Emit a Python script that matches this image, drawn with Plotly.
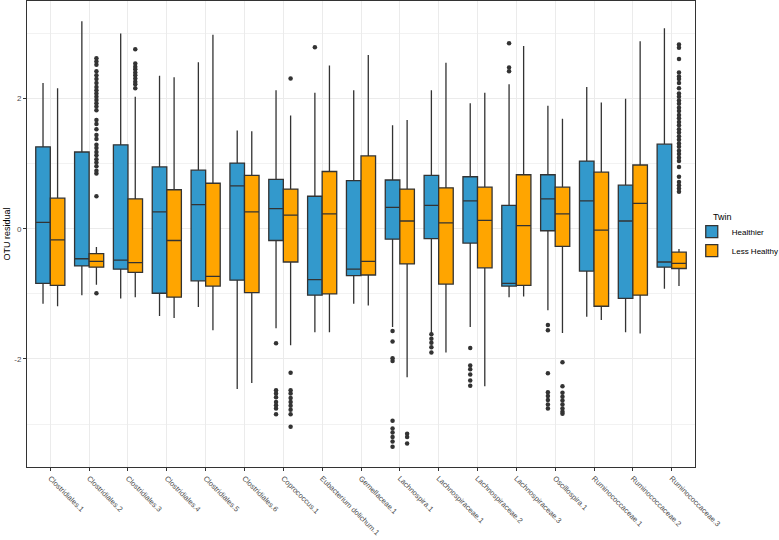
import plotly.graph_objects as go

taxa = ["Clostridiales.1", "Clostridiales.2", "Clostridiales.3", "Clostridiales.4",
        "Clostridiales.5", "Clostridiales.6", "Coprococcus.1", "Eubacterium dolichum.1",
        "Gemellaceae.1", "Lachnospira.1", "Lachnospiraceae.1", "Lachnospiraceae.2",
        "Lachnospiraceae.3", "Oscillospira.1", "Ruminococcaceae.1", "Ruminococcaceae.2",
        "Ruminococcaceae.3"]

# Healthier twin
h_low = [-1.15, -1.02, -1.07, -1.34, -1.20, -2.46, -1.53, -1.59, -1.15, -1.51, -1.60, -1.51, -1.05, -1.25, -1.35, -1.59, -0.92]
h_q1 = [-0.84, -0.57, -0.62, -0.99, -0.80, -0.79, -0.18, -1.02, -0.72, -0.16, -0.15, -0.22, -0.88, -0.03, -0.65, -1.07, -0.59]
h_med = [0.10, -0.46, -0.48, 0.26, 0.37, 0.66, 0.31, -0.78, -0.62, 0.33, 0.36, 0.43, -0.84, 0.46, 0.43, 0.12, -0.51]
h_q3 = [1.26, 1.18, 1.29, 0.95, 0.90, 1.01, 0.76, 0.50, 0.74, 0.75, 0.82, 0.80, 0.36, 0.83, 1.04, 0.67, 1.30]
h_high = [2.24, 3.19, 3.00, 2.35, 2.56, 1.51, 2.13, 2.09, 2.13, 1.59, 2.13, 1.93, 2.22, 1.89, 2.18, 2.00, 3.08]
h_out = [
    [], [], [], [], [], [],
    [-1.76, -2.48, -2.53, -2.59, -2.66, -2.71, -2.76, -2.85],
    [2.79],
    [],
    [-1.57, -1.73, -1.99, -2.03, -2.95, -3.07, -3.13, -3.20, -3.27, -3.35],
    [-1.62, -1.69, -1.75, -1.82, -1.90],
    [-1.83, -2.10, -2.16, -2.24, -2.33, -2.41],
    [2.85, 2.48, 2.42],
    [-1.48, -1.56, -2.22, -2.51, -2.57, -2.63, -2.70, -2.76],
    [], [], [],
]

# Less healthy twin
l_low = [-1.19, -0.86, -1.05, -1.37, -1.56, -2.37, -1.79, -1.59, -1.18, -2.28, -1.90, -2.42, -1.04, -1.60, -1.40, -1.61, -0.88]
l_q1 = [-0.87, -0.59, -0.67, -1.05, -0.88, -0.98, -0.51, -1.00, -0.71, -0.54, -0.85, -0.60, -0.87, -0.27, -1.19, -1.02, -0.61]
l_med = [-0.17, -0.50, -0.52, -0.18, -0.73, 0.26, 0.21, 0.23, -0.50, 0.12, 0.09, 0.13, 0.05, 0.23, -0.02, 0.39, -0.53]
l_q3 = [0.47, -0.38, 0.46, 0.60, 0.70, 0.82, 0.61, 0.88, 1.12, 0.61, 0.63, 0.64, 0.83, 0.64, 0.87, 0.98, -0.36]
l_high = [2.16, -0.28, 2.03, 2.33, 2.98, 1.50, 1.74, 2.51, 2.67, 1.67, 2.55, 2.09, 2.81, 1.69, 1.94, 2.88, -0.31]
l_out = [
    [],
    [0.50, 0.85, 0.89, 0.96, 1.02, 1.07, 1.13, 1.18, 1.24, 1.29, 1.38, 1.44, 1.53, 1.61, 1.67,
     1.82, 1.88, 1.93, 1.98, 2.03, 2.08, 2.13, 2.18, 2.24, 2.30, 2.36, 2.42, 2.52, 2.57, 2.62, -0.99],
    [2.76, 2.54, 2.49, 2.45, 2.40, 2.36, 2.31, 2.26, 2.22, 2.16],
    [], [], [],
    [2.31, -2.21, -2.48, -2.53, -2.60, -2.66, -2.72, -2.78, -2.85, -3.04],
    [], [],
    [-3.15, -3.20, -3.30],
    [], [], [],
    [-2.05, -2.42, -2.52, -2.58, -2.64, -2.70, -2.76, -2.81, -2.84],
    [], [],
    [2.83, 2.78, 2.61, 2.40, 2.34, 2.30, 2.24, 2.16, 2.08, 2.03, 1.97, 1.92, 1.86, 1.81, 1.75,
     1.70, 1.64, 1.59, 1.53, 1.48, 1.42, 1.37, 1.31, 1.26, 1.20, 1.15, 1.09, 1.04, 0.95, 0.80,
     0.72, 0.67, 0.62, 0.57],
]

groups = [
    ("Healthier", "#3399CC", h_low, h_q1, h_med, h_q3, h_high, h_out),
    ("Less Healthy", "#FFA500", l_low, l_q1, l_med, l_q3, l_high, l_out),
]

fig = go.Figure()
for name, color, lo, q1, med, q3, hi, out in groups:
    fig.add_trace(go.Box(
        name=name,
        x=taxa,
        q1=q1, median=med, q3=q3,
        lowerfence=lo, upperfence=hi,
        offsetgroup=name,
        whiskerwidth=0,
        fillcolor=color,
        line=dict(color="#333333", width=1.3),
        hoverinfo="skip",
    ))

# outlier points, dodged the same way as the boxes
for name, color, lo, q1, med, q3, hi, out in groups:
    xs = [t for t, pts in zip(taxa, out) for _ in pts]
    ys = [v for pts in out for v in pts]
    fig.add_trace(go.Scatter(
        x=xs, y=ys, mode="markers",
        offsetgroup=name,
        marker=dict(color="#333333", size=4.5),
        showlegend=False, hoverinfo="skip",
    ))

# legend title drawn separately so the keys can sit further left
fig.add_annotation(
    text="Twin", xref="paper", yref="paper", x=1.024, y=0.537,
    xanchor="left", yanchor="middle", showarrow=False,
    font=dict(size=9, color="black"),
)

fig.update_layout(
    width=779, height=540,
    margin=dict(l=27, r=84, t=1, b=73, autoexpand=False),
    paper_bgcolor="white", plot_bgcolor="white",
    font=dict(family="Liberation Sans, Arial, sans-serif", size=8, color="#4D4D4D"),
    boxmode="group", boxgap=0.25, boxgroupgap=0,
    scattermode="group", scattergap=0.25,
    showlegend=True,
    legend=dict(
        font=dict(size=8, color="black"),
        bgcolor="rgba(0,0,0,0)",
        xref="container", yref="container",
        x=0.888, xanchor="left", y=0.598, yanchor="top",
        tracegroupgap=0,
    ),
    xaxis=dict(
        type="category", categoryorder="array", categoryarray=taxa,
        range=[-0.6, 16.6],
        tickangle=45, ticks="outside", ticklen=3, tickcolor="#333333",
        showgrid=True, gridcolor="#EBEBEB", gridwidth=1,
        showline=True, linecolor="#333333", linewidth=1, mirror=True,
        tickfont=dict(size=7.5, color="#4D4D4D"),
        automargin=False,
    ),
    yaxis=dict(
        range=[-3.66, 3.5],
        tickvals=[-2, 0, 2], ticktext=["-2", "0", "2"],
        ticks="outside", ticklen=3, tickcolor="#333333",
        showgrid=True, gridcolor="#EBEBEB", gridwidth=1,
        minor=dict(tickvals=[-3, -1, 1, 3], showgrid=True, gridcolor="#F2F2F2", gridwidth=0.6, ticks=""),
        zeroline=False,
        showline=True, linecolor="#333333", linewidth=1, mirror=True,
        title=dict(text="OTU residual", font=dict(size=9, color="black"), standoff=2),
        automargin=False,
        tickfont=dict(size=8, color="#4D4D4D"),
    ),
)

fig.write_html("out.html", config={"displayModeBar": False},
               post_script="document.body.style.margin='0';")
